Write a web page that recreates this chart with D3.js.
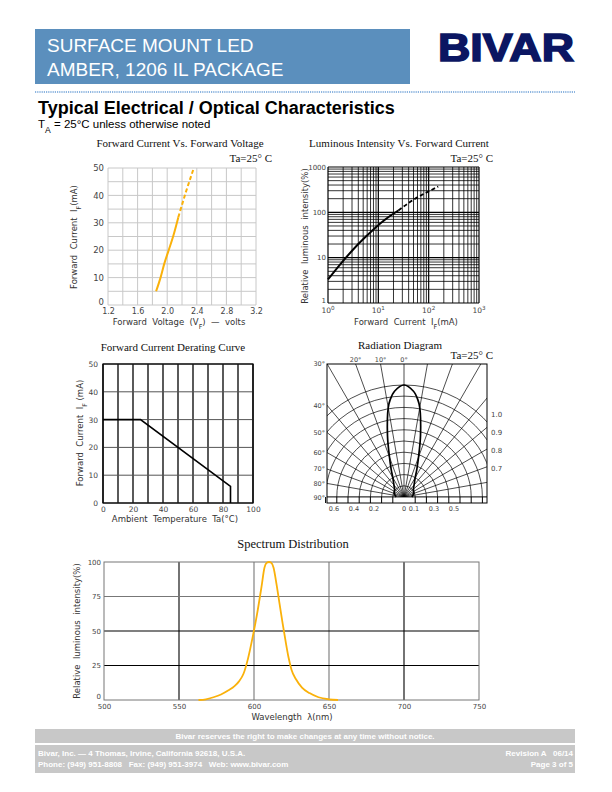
<!DOCTYPE html>
<html>
<head>
<meta charset="utf-8">
<script src="https://cdn.jsdelivr.net/npm/d3@7"></script>
<style>
  body { margin: 0; background: #fff; }
  svg text { font-family: "DejaVu Sans", Verdana, sans-serif; white-space: pre; }
  svg text.serif { font-family: "Liberation Serif", "Times New Roman", serif; }
  svg text.arial { font-family: "Liberation Sans", Arial, sans-serif; }
</style>
</head>
<body>
<svg id="page" width="612" height="792"></svg>
<script>
// forward current vs forward voltage
const vfSolid = [1.85, 1.91, 1.96, 2.02, 2.08, 2.15];
const ifSolid = [5, 10, 15, 20, 25, 32];
const vfDash = [2.15, 2.25, 2.36];
const ifDash = [32, 41, 50];
const vfTicks = [1.2, 1.6, 2.0, 2.4, 2.8, 3.2];
const ifTicks = [0, 10, 20, 30, 40, 50];

// luminous intensity vs forward current
const livCurrentSolid = [1, 2, 4, 8, 15, 25];
const livSolid = [3.3, 8.5, 20, 42, 75, 110];
const livCurrentDash = [25, 50, 100, 155];
const livDash = [110, 190, 290, 370];
const logTicks = [1, 10, 100, 1000];

// derating curve
const derTemp = [0, 25, 85, 85];
const derCurrent = [30, 30, 6, 0];
const tempTicks = [0, 20, 40, 60, 80, 100];
const derTicks = [0, 10, 20, 30, 40, 50];

// radiation diagram
const radAngles = [0, 5, 8, 10, 15, 20, 25, 30, 40, 50, 60, 70, 80, 90];
const radValues = [1.0, 0.95, 0.88, 0.81, 0.57, 0.38, 0.27, 0.2, 0.14, 0.11, 0.10, 0.09, 0.08, 0.07];
const sideAngleLabels = [30, 40, 50, 60, 70, 80, 90];
const topAngleLabels = [20, 10, 0];
const rightLabels = [1.0, 0.9, 0.8, 0.7];
const bottomLeftLabels = [0.6, 0.4, 0.2];
const bottomRightLabels = [0, 0.1, 0.3, 0.5];

// spectrum
const wavelength = [563, 568, 573, 578, 583, 587, 590, 593, 596, 599, 602, 605, 607, 608.5, 610, 611.5, 613, 615, 617, 619, 621, 623, 625, 628, 632, 637, 643, 650, 656];
const relIntensity = [0, 0.5, 2, 4, 7, 10, 13.5, 19, 30, 45, 62, 82, 96, 99.5, 100, 99.5, 96, 84, 70, 56, 43, 31, 22, 15, 9, 5, 2, 0.5, 0];
const wlTicks = [500, 550, 600, 650, 700, 750];
const relTicks = [0, 25, 50, 75, 100];

const svg = d3.select('#page');
const orange = '#fab10a';
const tickColor = '#444';

function label(g, x, y, parts, size, opt = {}) {
  const t = g.append('text')
    .attr('x', x).attr('y', y)
    .attr('font-size', size)
    .attr('fill', opt.fill || '#333')
    .attr('text-anchor', opt.anchor || 'middle')
    .attr('letter-spacing', opt.spacing || 0);
  if (opt.rotate) t.attr('transform', `rotate(-90,${x},${y})`);
  if (opt.cls) t.attr('class', opt.cls);
  if (opt.weight) t.attr('font-weight', opt.weight);
  parts.forEach(p => {
    if (typeof p === 'string') t.append('tspan').text(p);
    else t.append('tspan')
      .attr('baseline-shift', p.sup ? 'super' : 'sub')
      .attr('font-size', size * 0.75)
      .text(p.t);
  });
  return t;
}

function styleAxis(a, size) {
  a.select('.domain').remove();
  a.attr('font-size', size);
  a.selectAll('text').attr('fill', tickColor);
}

// ---------- header ----------
svg.append('rect').attr('x', 35).attr('y', 29).attr('width', 375).attr('height', 55).attr('fill', '#5b8fbd');
label(svg, 47, 52, ['SURFACE MOUNT LED'], 19, { anchor: 'start', fill: '#fff', cls: 'arial' });
label(svg, 47, 76, ['AMBER, 1206 IL PACKAGE'], 19, { anchor: 'start', fill: '#fff', cls: 'arial' });
label(svg, 438, 61, ['BIVAR'], 39, { anchor: 'start', fill: '#0b1662', cls: 'arial', weight: 'bold' })
  .attr('textLength', 136).attr('lengthAdjust', 'spacingAndGlyphs')
  .attr('stroke', '#0b1662').attr('stroke-width', 1.6);
svg.append('line').attr('x1', 35).attr('x2', 575).attr('y1', 92).attr('y2', 92)
  .attr('stroke', '#6b9fd6').attr('stroke-width', 1.5).attr('stroke-dasharray', '1.2,1');
label(svg, 38, 114, ['Typical Electrical / Optical Characteristics'], 18, { anchor: 'start', fill: '#000', cls: 'arial', weight: 'bold' });
label(svg, 38, 128, ['T', { t: 'A' }, ' = 25°C unless otherwise noted'], 11.5, { anchor: 'start', fill: '#000', cls: 'arial' });

// ---------- chart 1: forward current vs forward voltage ----------
const g1 = svg.append('g');
const x1 = d3.scaleLinear().domain([1.2, 3.2]).range([108, 256]);
const y1 = d3.scaleLinear().domain([0, 50]).range([305, 168]);
g1.append('g').selectAll('line').data(x1.ticks(10)).join('line')
  .attr('x1', d => x1(d)).attr('x2', d => x1(d)).attr('y1', y1(0)).attr('y2', y1(50))
  .attr('stroke', '#c8c8c8').attr('stroke-width', 1);
g1.append('g').selectAll('line').data(y1.ticks(10)).join('line')
  .attr('x1', x1(1.2)).attr('x2', x1(3.2)).attr('y1', d => y1(d)).attr('y2', d => y1(d))
  .attr('stroke', '#c8c8c8').attr('stroke-width', 1);
g1.append('g').attr('transform', `translate(0,${y1(0)})`)
  .call(d3.axisBottom(x1).tickValues(vfTicks).tickFormat(d3.format('.1f')).tickSize(0).tickPadding(3))
  .call(a => styleAxis(a, 8));
g1.append('g').attr('transform', `translate(${x1(1.2)},0)`)
  .call(d3.axisLeft(y1).tickValues(ifTicks).tickSize(0).tickPadding(4))
  .call(a => styleAxis(a, 8.5))
  .call(a => a.selectAll('text').filter(d => d === 0).attr('dy', '-0.1em'));
const line1 = d3.line().x(d => x1(d[0])).y(d => y1(d[1])).curve(d3.curveMonotoneX);
g1.append('path').attr('d', line1(d3.zip(vfSolid, ifSolid)))
  .attr('fill', 'none').attr('stroke', orange).attr('stroke-width', 2);
g1.append('path').attr('d', line1(d3.zip(vfDash, ifDash)))
  .attr('fill', 'none').attr('stroke', orange).attr('stroke-width', 2).attr('stroke-dasharray', '4,2.5');
label(g1, 180, 147, ['Forward Current Vs. Forward Voltage'], 11, { cls: 'serif', fill: '#111' });
label(g1, 272, 162, ['Ta=25° C'], 11, { cls: 'serif', anchor: 'end', fill: '#111' });
label(g1, 77, 237, ['Forward  Current  I', { t: 'F' }, '(mA)'], 8.5, { rotate: true });
label(g1, 179, 325, ['Forward  Voltage  (V', { t: 'F' }, ')  —  volts'], 8.5);

// ---------- chart 2: luminous intensity vs forward current ----------
const g2 = svg.append('g');
const x2 = d3.scaleLog().domain([1, 1000]).range([328, 479]);
const y2 = d3.scaleLog().domain([1, 1000]).range([303, 167]);
const logGrid = d3.range(0, 3).flatMap(e => d3.range(1, 10).map(k => k * Math.pow(10, e))).concat([1000]);
g2.append('g').selectAll('line').data(logGrid).join('line')
  .attr('x1', d => x2(d)).attr('x2', d => x2(d)).attr('y1', y2(1)).attr('y2', y2(1000))
  .attr('stroke', '#000').attr('stroke-width', d => logTicks.includes(d) ? 1.2 : 0.8);
g2.append('g').selectAll('line').data(logGrid).join('line')
  .attr('x1', x2(1)).attr('x2', x2(1000)).attr('y1', d => y2(d)).attr('y2', d => y2(d))
  .attr('stroke', '#000').attr('stroke-width', d => logTicks.includes(d) ? 1.2 : 0.8);
g2.selectAll('.ylab').data(logTicks).join('text')
  .attr('x', x2(1) - 2).attr('y', d => y2(d) + (d === 1 ? 0 : 2.5))
  .attr('text-anchor', 'end').attr('font-size', 7).attr('fill', tickColor).text(d => d);
logTicks.forEach((d, i) => {
  label(g2, x2(d), 313, ['10', { t: String(i), sup: true }], 7.5, { fill: tickColor });
});
const line2 = d3.line().x(d => x2(d[0])).y(d => y2(d[1])).curve(d3.curveMonotoneX);
g2.append('path').attr('d', line2(d3.zip(livCurrentSolid, livSolid)))
  .attr('fill', 'none').attr('stroke', '#000').attr('stroke-width', 2);
g2.append('path').attr('d', line2(d3.zip(livCurrentDash, livDash)))
  .attr('fill', 'none').attr('stroke', '#000').attr('stroke-width', 1.8).attr('stroke-dasharray', '4,2.5');
label(g2, 399, 147, ['Luminous Intensity Vs. Forward Current'], 11, { cls: 'serif', fill: '#111' });
label(g2, 493, 162, ['Ta=25° C'], 11, { cls: 'serif', anchor: 'end', fill: '#111' });
label(g2, 308, 236, ['Relative  luminous  intensity(%)'], 8.5, { rotate: true });
label(g2, 406, 325, ['Forward  Current  I', { t: 'F' }, '(mA)'], 8.5);

// ---------- chart 3: derating curve ----------
const g3 = svg.append('g');
const x3 = d3.scaleLinear().domain([0, 100]).range([103, 253]);
const y3 = d3.scaleLinear().domain([0, 50]).range([503, 364]);
g3.append('g').selectAll('line').data(x3.ticks(10)).join('line')
  .attr('x1', d => x3(d)).attr('x2', d => x3(d)).attr('y1', y3(0)).attr('y2', y3(50))
  .attr('stroke', '#000').attr('stroke-width', 1.3);
g3.append('g').selectAll('line').data(y3.ticks(5)).join('line')
  .attr('x1', x3(0)).attr('x2', x3(100)).attr('y1', d => y3(d)).attr('y2', d => y3(d))
  .attr('stroke', '#555').attr('stroke-width', 1);
g3.append('rect').attr('x', x3(0)).attr('y', y3(50)).attr('width', x3(100) - x3(0)).attr('height', y3(0) - y3(50))
  .attr('fill', 'none').attr('stroke', '#000').attr('stroke-width', 1.2);
g3.append('g').attr('transform', `translate(0,${y3(0)})`)
  .call(d3.axisBottom(x3).tickValues(tempTicks).tickSize(0).tickPadding(4))
  .call(a => styleAxis(a, 7.5));
g3.append('g').attr('transform', `translate(${x3(0)},0)`)
  .call(d3.axisLeft(y3).tickValues(derTicks).tickSize(0).tickPadding(5))
  .call(a => styleAxis(a, 7.5));
const line3 = d3.line().x(d => x3(d[0])).y(d => y3(d[1]));
g3.append('path').attr('d', line3(d3.zip(derTemp, derCurrent)))
  .attr('fill', 'none').attr('stroke', '#000').attr('stroke-width', 1.6);
label(g3, 173, 351, ['Forward Current Derating Curve'], 11, { cls: 'serif', fill: '#111' });
label(g3, 83, 433, ['Forward  Current  I', { t: 'F' }, ' (mA)'], 8.5, { rotate: true });
label(g3, 175, 522, ['Ambient  Temperature  Ta(°C)'], 8.5);

// ---------- chart 4: radiation diagram ----------
const g4 = svg.append('g');
const cx4 = 404, cy4 = 497;
const box4 = { x0: 327, x1: 487, y0: 364, y1: 503 };
const r4 = d3.scaleLinear().domain([0, 1]).range([0, 112]);
g4.append('clipPath').attr('id', 'radclip').append('rect')
  .attr('x', box4.x0).attr('y', box4.y0).attr('width', box4.x1 - box4.x0).attr('height', cy4 - box4.y0);
const grid4 = g4.append('g').attr('clip-path', 'url(#radclip)');
d3.range(1, 11).forEach(k => {
  const p = d3.path();
  p.arc(cx4, cy4, r4(k / 10), Math.PI, 2 * Math.PI);
  grid4.append('path').attr('d', p.toString()).attr('fill', 'none').attr('stroke', '#000').attr('stroke-width', 0.7);
});
grid4.selectAll('.ray').data(d3.range(-90, 91, 10)).join('line')
  .attr('x1', cx4).attr('y1', cy4)
  .attr('x2', d => cx4 + 300 * Math.sin(d * Math.PI / 180))
  .attr('y2', d => cy4 - 300 * Math.cos(d * Math.PI / 180))
  .attr('stroke', '#000').attr('stroke-width', 0.7);
g4.append('line').attr('x1', box4.x0).attr('x2', box4.x1).attr('y1', cy4).attr('y2', cy4)
  .attr('stroke', '#000').attr('stroke-width', 0.8);
g4.selectAll('.btick').data(d3.range(1, 8).flatMap(k => [-k, k])).join('line')
  .attr('x1', d => cx4 + Math.sign(d) * r4(Math.abs(d) / 10)).attr('x2', d => cx4 + Math.sign(d) * r4(Math.abs(d) / 10))
  .attr('y1', cy4).attr('y2', box4.y1).attr('stroke', '#000').attr('stroke-width', 1);
g4.append('rect').attr('x', box4.x0).attr('y', box4.y0).attr('width', box4.x1 - box4.x0).attr('height', box4.y1 - box4.y0)
  .attr('fill', 'none').attr('stroke', '#000').attr('stroke-width', 1);
const lobePts = radAngles.slice().reverse().map((a, i) => [-a, radValues[radValues.length - 1 - i]])
  .concat(radAngles.slice(1).map((a, i) => [a, radValues[i + 1]]));
const lobe = d3.lineRadial().angle(d => d[0] * Math.PI / 180).radius(d => r4(d[1])).curve(d3.curveCatmullRom);
g4.append('path').attr('transform', `translate(${cx4},${cy4})`).attr('d', lobe(lobePts))
  .attr('fill', 'none').attr('stroke', '#000').attr('stroke-width', 1.7);
sideAngleLabels.forEach(a => {
  const y = a === 90 ? cy4 : cy4 - (cx4 - box4.x0) / Math.tan(a * Math.PI / 180);
  label(g4, box4.x0 - 2, y + 2.5, [a + '°'], 6.5, { anchor: 'end', fill: tickColor });
});
topAngleLabels.forEach(a => {
  const x = cx4 - (cy4 - box4.y0) * Math.tan(a * Math.PI / 180);
  label(g4, x, box4.y0 - 2, [a + '°'], 6.5, { fill: tickColor });
});
const rightY = d3.scaleLinear().domain([0.7, 1.0]).range([471, 417]);
rightLabels.forEach(v => label(g4, box4.x1 + 4, rightY(v), [v.toFixed(1)], 7, { anchor: 'start', fill: tickColor }));
const leftX = d3.scaleLinear().domain([0, 0.6]).range([394, 334]);
const rightX = d3.scaleLinear().domain([0, 0.5]).range([cx4, cx4 + 50]);
bottomLeftLabels.forEach(v => label(g4, leftX(v), 511, [String(v)], 6.5, { fill: tickColor }));
bottomRightLabels.forEach(v => label(g4, rightX(v), 511, [String(v)], 6.5, { fill: tickColor }));
label(g4, 400, 349, ['Radiation Diagram'], 11, { cls: 'serif', fill: '#111' });
label(g4, 493, 359, ['Ta=25° C'], 11, { cls: 'serif', anchor: 'end', fill: '#111' });

// ---------- chart 5: spectrum ----------
const g5 = svg.append('g');
const x5 = d3.scaleLinear().domain([500, 750]).range([104, 479]);
const y5 = d3.scaleLinear().domain([0, 100]).range([700, 562]);
g5.append('g').selectAll('line').data(wlTicks.slice(1, -1)).join('line')
  .attr('x1', d => x5(d)).attr('x2', d => x5(d)).attr('y1', y5(0)).attr('y2', y5(100))
  .attr('stroke', d => (d === 550 || d === 700) ? '#000' : '#777').attr('stroke-width', 1.1);
g5.append('g').selectAll('line').data(relTicks.slice(1, -1)).join('line')
  .attr('x1', x5(500)).attr('x2', x5(750)).attr('y1', d => y5(d)).attr('y2', d => y5(d))
  .attr('stroke', d => d === 75 ? '#777' : '#000').attr('stroke-width', 1.1);
g5.append('rect').attr('x', x5(500)).attr('y', y5(100)).attr('width', x5(750) - x5(500)).attr('height', y5(0) - y5(100))
  .attr('fill', 'none').attr('stroke', '#777').attr('stroke-width', 1);
g5.append('g').attr('transform', `translate(0,${y5(0)})`)
  .call(d3.axisBottom(x5).tickValues(wlTicks).tickSize(0).tickPadding(4))
  .call(a => styleAxis(a, 7));
g5.append('g').attr('transform', `translate(${x5(500)},0)`)
  .call(d3.axisLeft(y5).tickValues(relTicks).tickSize(0).tickPadding(3))
  .call(a => styleAxis(a, 7))
  .call(a => a.selectAll('text').filter(d => d === 0).attr('dy', '-0.2em'));
const line5 = d3.line().x(d => x5(d[0])).y(d => y5(d[1])).curve(d3.curveMonotoneX);
g5.append('path').attr('d', line5(d3.zip(wavelength, relIntensity)))
  .attr('fill', 'none').attr('stroke', orange).attr('stroke-width', 1.8);
label(g5, 293, 548, ['Spectrum Distribution'], 12.5, { cls: 'serif', fill: '#111' });
label(g5, 80, 631, ['Relative  luminous  intensity(%)'], 8.5, { rotate: true });
label(g5, 292, 720, ['Wavelength  λ(nm)'], 8.5);

// ---------- footer ----------
svg.append('rect').attr('x', 35).attr('y', 729).attr('width', 540).attr('height', 14).attr('fill', '#c8c8c8');
svg.append('rect').attr('x', 35).attr('y', 745).attr('width', 540).attr('height', 28).attr('fill', '#c8c8c8');
label(svg, 305, 739, ['Bivar reserves the right to make changes at any time without notice.'], 8, { fill: '#fff', cls: 'arial', weight: 'bold' });
label(svg, 38, 756, ['Bivar, Inc. — 4 Thomas, Irvine, California 92618, U.S.A.'], 8, { anchor: 'start', fill: '#fff', cls: 'arial', weight: 'bold' });
label(svg, 38, 767, ['Phone: (949) 951-8808   Fax: (949) 951-3974   Web: www.bivar.com'], 8, { anchor: 'start', fill: '#fff', cls: 'arial', weight: 'bold' });
label(svg, 573, 756, ['Revision A   06/14'], 8, { anchor: 'end', fill: '#fff', cls: 'arial', weight: 'bold' });
label(svg, 573, 767, ['Page 3 of 5'], 8, { anchor: 'end', fill: '#fff', cls: 'arial', weight: 'bold' });
</script>
</body>
</html>
